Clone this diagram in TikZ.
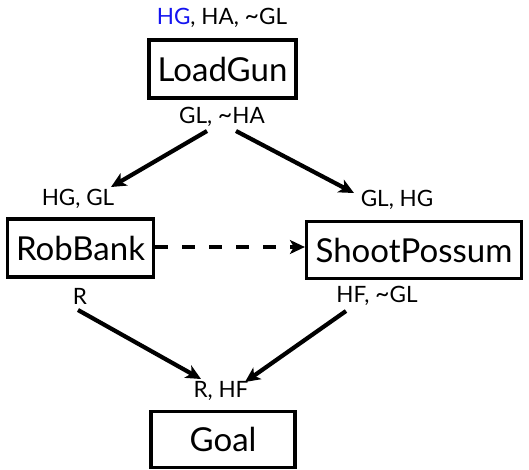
\documentclass[tikz,border=0pt]{standalone}
\usepackage{fontspec}
\setmainfont{Lato}
\usetikzlibrary{arrows.meta}
\definecolor{hgblue}{RGB}{20,20,240}
% a wider tilde for negated conditions
\newcommand{\negc}{{\fontsize{25}{22}\selectfont\raisebox{0.5pt}{\textasciitilde}}}
\begin{document}
\begin{tikzpicture}[x=1pt,y=-1pt,
  action/.style={draw=black,line width=3.2pt,inner sep=0pt,font=\fontsize{33}{34}\selectfont},
  cond/.style={inner sep=0pt,font=\fontsize{22.5}{23}\selectfont},
  link/.style={line width=4.2pt,-{Stealth[length=15pt,width=14pt,inset=4pt]}},
  dashlink/.style={link,dash pattern=on 13pt off 14pt}]
\useasboundingbox (0,0) rectangle (529,469);

% action boxes
\node[action,minimum width=147pt,minimum height=58pt] (load) at (222.5,69) {LoadGun};
\node[action,minimum width=146pt,minimum height=58pt] (rob) at (80.5,248) {RobBank};
\node[action,minimum width=215pt,minimum height=57pt] (shoot) at (414,250) {ShootPossum};
\node[action,minimum width=144pt,minimum height=56pt] (goal) at (223,439.5) {Goal};

% preconditions and effects
\node[cond] (loadpre) at (222,18) {\textcolor{hgblue}{HG}, HA, \negc GL};
\node[cond] (loadpost) at (222,117) {GL, \negc HA};
\node[cond] (robpre) at (78,199) {HG, GL};
\node[cond] (robpost) at (80,296) {R};
\node[cond] (shootpre) at (397,200) {GL, HG};
\node[cond] (shootpost) at (377,296) {HF, \negc GL};
\node[cond] (goalpre) at (221,391) {R, HF};

% connector end points
\coordinate (a1) at (207,131);
\coordinate (a2) at (111,187);
\coordinate (b1) at (236,131);
\coordinate (b2) at (354,193);
\coordinate (d1) at (78,310);
\coordinate (d2) at (201,379);
\coordinate (e1) at (346,311);
\coordinate (e2) at (245,382);

\draw[link] (a1) -- (a2);
\draw[link] (b1) -- (b2);
\draw[dashlink] (rob.east |- 0,247) -- (shoot.west |- 0,247);
\draw[link] (d1) -- (d2);
\draw[link] (e1) -- (e2);
\end{tikzpicture}
\end{document}
